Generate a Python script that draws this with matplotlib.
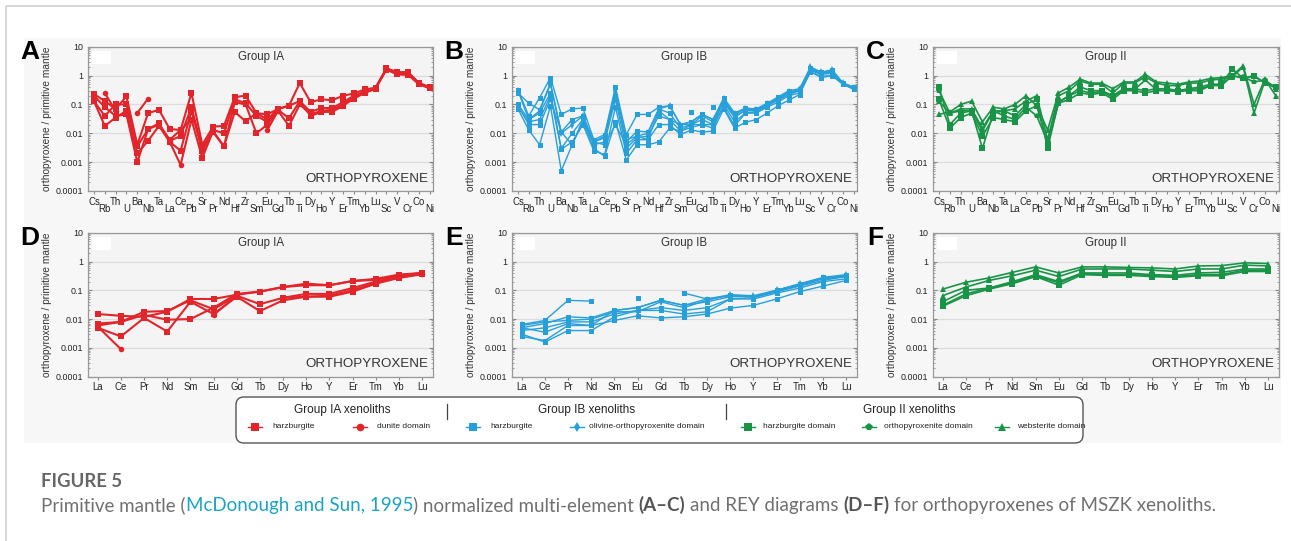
import numpy as np
import matplotlib.pyplot as plt
from matplotlib.patches import Rectangle, FancyBboxPatch
from matplotlib.lines import Line2D

plt.rcParams['font.family'] = ['Liberation Sans', 'DejaVu Sans']

W, H = 1291, 541
nan = np.nan

multi_elements = ['Cs', 'Rb', 'Th', 'U', 'Ba', 'Nb', 'Ta', 'La', 'Ce', 'Pb', 'Sr', 'Pr', 'Nd', 'Hf',
                  'Zr', 'Sm', 'Eu', 'Gd', 'Tb', 'Ti', 'Dy', 'Ho', 'Y', 'Er', 'Tm', 'Yb', 'Lu', 'Sc',
                  'V', 'Cr', 'Co', 'Ni']
rey_elements = ['La', 'Ce', 'Pr', 'Nd', 'Sm', 'Eu', 'Gd', 'Tb', 'Dy', 'Ho', 'Y', 'Er', 'Tm', 'Yb', 'Lu']

# ---- Group IA, multi-element (A) ----
ia_harz_1 = [0.23, 0.13, 0.07, 0.19, 0.004, 0.05, 0.065, 0.014, 0.013, 0.25, 0.004, 0.017, 0.018, 0.18,
             0.2, 0.05, 0.045, 0.07, 0.09, 0.55, 0.12, 0.15, 0.14, 0.2, 0.24, 0.33, 0.38, 1.8, 1.3, 1.3, 0.55, 0.38]
ia_harz_2 = [0.13, 0.04, 0.1, 0.1, 0.0035, 0.014, 0.022, 0.0055, 0.008, 0.08, 0.003, 0.013, 0.01, 0.15,
             0.11, 0.04, 0.025, 0.065, 0.033, 0.13, 0.055, 0.075, 0.075, 0.12, 0.2, 0.28, 0.37, 1.7, 1.2, 1.2, 0.52, 0.37]
ia_harz_3 = [0.13, 0.018, 0.035, 0.06, 0.002, 0.0055, 0.018, 0.005, 0.0025, 0.06, 0.0025, 0.011, 0.0035, 0.12,
             0.1, 0.01, 0.02, 0.06, 0.018, 0.1, 0.045, 0.06, 0.065, 0.1, 0.18, 0.26, 0.36, 1.6, 1.1, 1.05, 0.5, 0.36]
ia_harz_4 = [0.2, 0.08, 0.04, 0.045, 0.001, 0.014, 0.02, 0.006, 0.013, 0.03, 0.0014, 0.012, 0.0035, 0.055,
             0.026, 0.05, 0.03, 0.07, 0.09, 0.13, 0.04, 0.055, 0.055, 0.09, 0.16, 0.25, 0.35, 1.7, 1.3, 1.3, 0.55, 0.4]
ia_dunite = [nan, 0.25, 0.06, nan, 0.05, 0.16, nan, 0.005, 0.0008, 0.03, nan, nan, nan, nan,
             nan, nan, 0.013, 0.06, nan, nan, nan, nan, nan, nan, nan, nan, nan, nan, nan, nan, nan, nan]

# ---- Group IA, REY (D) ----
ia_rey_harz_1 = [0.015, 0.013, 0.012, 0.018, 0.05, 0.05, 0.07, 0.09, 0.13, 0.17, 0.15, 0.21, 0.25, 0.35, 0.4]
ia_rey_harz_2 = [0.007, 0.008, 0.018, 0.019, 0.045, 0.022, 0.065, 0.033, 0.055, 0.075, 0.075, 0.12, 0.2, 0.3, 0.38]
ia_rey_harz_3 = [0.005, 0.0025, 0.011, 0.0037, 0.04, 0.015, 0.06, 0.019, 0.045, 0.06, 0.06, 0.09, 0.17, 0.27, 0.36]
ia_rey_harz_4 = [0.006, 0.008, 0.014, 0.0095, 0.01, 0.025, 0.075, 0.09, 0.13, 0.15, 0.15, 0.21, 0.23, 0.33, 0.4]
ia_rey_dunite = [0.0055, 0.0009, nan, nan, nan, 0.014, 0.065, nan, 0.055, 0.06, 0.065, 0.1, 0.18, 0.28, 0.38]

# ---- Group IB, multi-element (B) ----
ib_harz_1 = [0.32, 0.04, 0.17, 0.85, 0.045, 0.07, 0.075, 0.006, 0.009, 0.4, 0.009, 0.045, 0.045, 0.08,
             0.09, 0.02, 0.025, 0.045, 0.03, 0.17, 0.05, 0.075, 0.07, 0.11, 0.18, 0.3, 0.35, 1.8, 1.3, 1.6, 0.55, 0.4]
ib_harz_2 = [0.25, 0.11, 0.065, 0.55, 0.011, 0.03, 0.04, 0.005, 0.007, 0.2, 0.005, 0.012, 0.011, 0.07,
             0.05, 0.015, 0.02, 0.03, 0.02, 0.13, 0.04, 0.06, 0.06, 0.09, 0.15, 0.25, 0.3, 1.5, 1.1, 1.2, 0.52, 0.38]
ib_harz_3 = [0.1, 0.03, 0.05, 0.25, 0.003, 0.01, 0.03, 0.004, 0.005, 0.15, 0.003, 0.007, 0.008, 0.04,
             0.03, 0.012, 0.016, 0.02, 0.015, 0.1, 0.025, 0.05, 0.05, 0.08, 0.12, 0.2, 0.25, 1.3, 0.95, 1.0, 0.5, 0.35]
ib_harz_4 = [0.08, 0.025, 0.03, 0.2, 0.0028, 0.005, 0.02, 0.0025, 0.0018, 0.08, 0.002, 0.006, 0.006, 0.02,
             0.02, 0.009, 0.013, 0.011, 0.012, 0.07, 0.015, 0.024, 0.03, 0.05, 0.09, 0.14, 0.22, 1.4, 0.85, 1.0, 0.5, 0.33]
ib_harz_5 = [0.07, 0.013, 0.004, 0.09, 0.0005, 0.004, 0.025, 0.003, 0.0016, 0.025, 0.0012, 0.004, 0.004, 0.005,
             0.015, 0.012, 0.02, 0.02, 0.02, 0.08, 0.018, 0.05, 0.055, 0.09, 0.14, 0.22, 0.3, 1.6, 1.2, 1.3, 0.55, 0.36]
ib_harz_6 = [0.09, 0.02, 0.02, 0.15, 0.011, 0.004, 0.03, 0.005, 0.004, 0.02, 0.004, 0.008, 0.006, 0.06,
             0.03, 0.02, 0.025, 0.045, 0.03, 0.12, 0.035, 0.065, 0.06, 0.1, 0.16, 0.26, 0.3, 1.7, 1.2, 1.4, 0.55, 0.37]
ib_harz_7 = [nan, nan, nan, nan, nan, nan, nan, nan, nan, nan, nan, nan, nan, nan,
             nan, nan, 0.055, nan, 0.08, nan, nan, nan, nan, nan, nan, nan, nan, nan, nan, nan, nan, nan]
ib_olopx = [0.3, 0.03, 0.06, 0.5, 0.01, 0.02, 0.04, 0.005, 0.008, 0.3, 0.006, 0.008, 0.01, 0.07,
            0.09, 0.02, 0.02, 0.04, 0.025, 0.15, 0.045, 0.07, 0.065, 0.1, 0.16, 0.27, 0.33, 2.0, 1.3, 1.5, 0.55, 0.38]

# ---- Group IB, REY (E) ----
ib_rey_harz_1 = [0.0065, 0.009, 0.045, 0.042, nan, 0.055, nan, 0.08, 0.05, 0.07, 0.06, 0.1, 0.17, 0.28, 0.35]
ib_rey_harz_2 = [0.005, 0.007, 0.012, 0.011, 0.02, 0.025, 0.045, 0.03, 0.04, 0.06, 0.06, 0.09, 0.15, 0.25, 0.3]
ib_rey_harz_3 = [0.004, 0.005, 0.008, 0.008, 0.015, 0.02, 0.025, 0.02, 0.025, 0.05, 0.05, 0.08, 0.12, 0.2, 0.25]
ib_rey_harz_4 = [0.0025, 0.0018, 0.006, 0.006, 0.009, 0.013, 0.011, 0.012, 0.015, 0.024, 0.03, 0.05, 0.09, 0.14, 0.22]
ib_rey_harz_5 = [0.003, 0.0016, 0.004, 0.004, 0.012, 0.02, 0.02, 0.015, 0.018, 0.05, 0.055, 0.09, 0.14, 0.22, 0.3]
ib_rey_harz_6 = [0.005, 0.0035, 0.007, 0.006, 0.02, 0.025, 0.045, 0.03, 0.05, 0.065, 0.06, 0.1, 0.16, 0.26, 0.32]
ib_rey_olopx = [0.006, 0.008, 0.009, 0.01, 0.018, 0.018, 0.04, 0.025, 0.045, 0.07, 0.065, 0.1, 0.16, 0.27, 0.33]

# ---- Group II, multi-element (C) ----
ii_web_1 = [0.045, 0.055, 0.1, 0.13, 0.025, 0.08, 0.07, 0.1, 0.2, 0.09, 0.013, 0.25, 0.4, 0.75,
            0.55, 0.55, 0.35, 0.6, 0.6, 1.1, 0.6, 0.55, 0.5, 0.6, 0.65, 0.8, 0.85, 1.0, 2.2, 0.1, 0.75, 0.2]
ii_web_2 = [0.13, 0.05, 0.07, 0.07, 0.015, 0.06, 0.06, 0.07, 0.13, 0.2, 0.006, 0.2, 0.3, 0.65,
            0.5, 0.5, 0.25, 0.55, 0.55, 0.9, 0.55, 0.45, 0.45, 0.55, 0.55, 0.7, 0.75, 0.9, 2.0, 0.05, 0.65, 0.35]
ii_harz_1 = [0.4, 0.02, 0.05, 0.06, 0.003, 0.05, 0.06, 0.04, 0.1, 0.15, 0.003, 0.12, 0.2, 0.4,
             0.3, 0.3, 0.2, 0.35, 0.35, 0.3, 0.35, 0.35, 0.3, 0.35, 0.4, 0.5, 0.5, 1.7, 0.8, 1.0, 0.55, 0.4]
ii_harz_2 = [0.15, 0.015, 0.035, 0.05, 0.008, 0.035, 0.03, 0.025, 0.06, 0.09, 0.004, 0.11, 0.15, 0.25,
             0.22, 0.25, 0.15, 0.3, 0.3, 0.25, 0.3, 0.3, 0.28, 0.3, 0.3, 0.45, 0.45, 1.0, 0.8, 0.95, 0.55, 0.4]
ii_opx = [0.3, 0.05, 0.06, 0.06, 0.012, 0.06, 0.04, 0.03, 0.08, 0.04, 0.005, 0.12, 0.2, 0.3,
          0.25, 0.28, 0.18, 0.33, 0.33, 0.7, 0.33, 0.3, 0.3, 0.33, 0.35, 0.45, 0.5, 0.95, 0.9, 0.6, 0.7, 0.38]

# ---- Group II, REY (F) ----
ii_rey_web_1 = [0.11, 0.19, 0.27, 0.42, 0.65, 0.4, 0.65, 0.65, 0.62, 0.6, 0.55, 0.7, 0.72, 0.9, 0.85]
ii_rey_web_2 = [0.065, 0.13, 0.22, 0.32, 0.5, 0.3, 0.55, 0.55, 0.55, 0.5, 0.45, 0.55, 0.55, 0.75, 0.7]
ii_rey_harz_1 = [0.04, 0.1, 0.12, 0.2, 0.35, 0.2, 0.4, 0.4, 0.4, 0.35, 0.33, 0.4, 0.42, 0.55, 0.55]
ii_rey_harz_2 = [0.028, 0.065, 0.11, 0.17, 0.3, 0.15, 0.35, 0.33, 0.33, 0.3, 0.28, 0.32, 0.32, 0.45, 0.45]
ii_rey_opx = [0.03, 0.075, 0.12, 0.18, 0.32, 0.18, 0.38, 0.35, 0.35, 0.33, 0.3, 0.35, 0.35, 0.5, 0.5]

RED, BLUE, GREEN = '#e2242b', '#27a0da', '#199447'


def px(x, y):
    return x / W, 1 - y / H


def draw_panel(box, labels, series, color, title, letter, lw, ms, stagger):
    left, top, right, bottom = box
    ax = fig.add_axes([left / W, 1 - bottom / H, (right - left) / W, (bottom - top) / H])
    ax.set_facecolor('#f4f4f4')
    x = np.arange(len(labels))
    for vals, marker in series:
        ax.plot(x, vals, color=color, marker=marker, ms=ms, lw=lw, mew=0)
    ax.set_yscale('log')
    ax.set_ylim(1e-4, 10)
    ax.set_yticks([1e-4, 1e-3, 1e-2, 0.1, 1, 10])
    ax.set_yticklabels(['0.0001', '0.001', '0.01', '0.1', '1', '10'])
    if stagger:
        ax.set_xlim(-0.55, len(labels) - 0.7)
    else:
        ax.set_xlim(-0.42, len(labels) - 0.53)
    ax.set_xticks(x)
    ax.set_xticklabels(labels)
    ax.grid(axis='y', which='major', color='#dcdcdc', lw=0.9)
    ax.set_axisbelow(True)
    ax.tick_params(axis='y', which='both', direction='in', right=True, colors='#888888',
                   labelcolor='#222222', labelsize=6.4)
    ax.tick_params(axis='y', which='major', length=3)
    ax.tick_params(axis='y', which='minor', length=1.6, width=0.6)
    ax.tick_params(axis='x', length=2.5, colors='#888888', labelcolor='#222222', labelsize=6.9, pad=1.5)
    if stagger:
        for i, tick in enumerate(ax.xaxis.get_major_ticks()):
            if i % 2 == 1:
                tick.set_pad(7)
    for s in ax.spines.values():
        s.set_color('#999999')
        s.set_linewidth(0.9)
    ax.add_patch(Rectangle((0.013, 0.88), 0.055, 0.09, transform=ax.transAxes,
                           facecolor='white', edgecolor='none', zorder=1))
    ax.text(0.5, 0.93, title, transform=ax.transAxes, ha='center', va='center',
            fontsize=8.3, color='#333333')
    ax.text(0.988, 0.085, 'ORTHOPYROXENE', transform=ax.transAxes, ha='right', va='center',
            fontsize=9.6, color='#333333')
    fig.text(*px(left - 41, (top + bottom) / 2), 'orthopyroxene / primitive mantle', rotation=90,
             ha='center', va='center', fontsize=7.3, color='#333333')
    fig.text(*px(left - 58, top + 5), letter, ha='center', va='center', fontsize=19,
             fontweight='bold', color='black')
    return ax


fig = plt.figure(figsize=(W / 100, H / 100), dpi=100)
fig.patch.set_facecolor('white')

# outer frame and light grey figure area
bg = fig.add_axes([0, 0, 1, 1])
bg.set_xlim(0, W)
bg.set_ylim(H, 0)
bg.axis('off')
bg.add_patch(Rectangle((6, 6), W + 20, H + 20, facecolor='none', edgecolor='#cfcfcf', lw=1.2))
bg.add_patch(Rectangle((24, 38), 1257, 405, facecolor='#f7f7f7', edgecolor='none'))

top_row = (46.7, 191)
bot_row = (232.7, 376.7)
cols = [(88, 433), (512, 857), (933, 1279)]

draw_panel((cols[0][0], top_row[0], cols[0][1], top_row[1]), multi_elements,
           [(ia_harz_1, 's'), (ia_harz_2, 's'), (ia_harz_3, 's'), (ia_harz_4, 's'), (ia_dunite, 'o')],
           RED, 'Group IA', 'A', 1.5, 4.0, True)
draw_panel((cols[1][0], top_row[0], cols[1][1], top_row[1]), multi_elements,
           [(ib_harz_1, 's'), (ib_harz_2, 's'), (ib_harz_3, 's'), (ib_harz_4, 's'), (ib_harz_5, 's'),
            (ib_harz_6, 's'), (ib_harz_7, 's'), (ib_olopx, 'd')],
           BLUE, 'Group IB', 'B', 1.0, 3.6, True)
draw_panel((cols[2][0], top_row[0], cols[2][1], top_row[1]), multi_elements,
           [(ii_harz_1, 's'), (ii_harz_2, 's'), (ii_opx, 'p'), (ii_web_1, '^'), (ii_web_2, '^')],
           GREEN, 'Group II', 'C', 1.2, 3.8, True)
draw_panel((cols[0][0], bot_row[0], cols[0][1], bot_row[1]), rey_elements,
           [(ia_rey_harz_1, 's'), (ia_rey_harz_2, 's'), (ia_rey_harz_3, 's'), (ia_rey_harz_4, 's'),
            (ia_rey_dunite, 'o')],
           RED, 'Group IA', 'D', 1.5, 4.0, False)
draw_panel((cols[1][0], bot_row[0], cols[1][1], bot_row[1]), rey_elements,
           [(ib_rey_harz_1, 's'), (ib_rey_harz_2, 's'), (ib_rey_harz_3, 's'), (ib_rey_harz_4, 's'),
            (ib_rey_harz_5, 's'), (ib_rey_harz_6, 's'), (ib_rey_olopx, 'd')],
           BLUE, 'Group IB', 'E', 1.0, 3.6, False)
draw_panel((cols[2][0], bot_row[0], cols[2][1], bot_row[1]), rey_elements,
           [(ii_rey_harz_1, 's'), (ii_rey_harz_2, 's'), (ii_rey_opx, 'p'), (ii_rey_web_1, '^'),
            (ii_rey_web_2, '^')],
           GREEN, 'Group II', 'F', 1.2, 3.8, False)

# legend box
lg = fig.add_axes([0, 0, 1, 1], zorder=5)
lg.set_xlim(0, W)
lg.set_ylim(H, 0)
lg.axis('off')
lg.add_patch(FancyBboxPatch((236, 397), 847, 46, boxstyle='round,pad=0,rounding_size=8',
                            facecolor='white', edgecolor='#555555', lw=1.0))
for cx, txt in [(342, 'Group IA xenoliths'), (587, 'Group IB xenoliths'), (909, 'Group II xenoliths')]:
    lg.text(cx, 410, txt, ha='center', va='center', fontsize=8.5, color='#222222')
for sx in (447, 726):
    lg.add_line(Line2D([sx, sx], [404, 419], color='#444444', lw=0.9))
entries = [(255, 272, RED, 's', 'harzburgite'), (360, 377, RED, 'o', 'dunite domain'),
           (473, 490, BLUE, 's', 'harzburgite'), (577, 589, BLUE, 'd', 'olivine-orthopyroxenite domain'),
           (748, 763, GREEN, 's', 'harzburgite domain'), (869, 884, GREEN, 'p', 'orthopyroxenite domain'),
           (1002, 1017, GREEN, '^', 'websterite domain')]
for mx, tx, col, mk, txt in entries:
    lg.add_line(Line2D([mx - 7, mx + 7], [427, 427], color=col, lw=1.0))
    lg.add_line(Line2D([mx], [427], color=col, marker=mk, ms=5.5, mew=0))
    lg.text(tx, 427, txt, ha='left', va='center', fontsize=6.0, color='#222222')

# caption
cap = fig.add_axes([0, 0, 1, 1], zorder=6)
cap.set_xlim(0, W)
cap.set_ylim(H, 0)
cap.axis('off')
cap.text(41, 481.5, 'FIGURE 5', ha='left', va='center', fontsize=13.3, fontweight='bold',
         color='#666666', family=['Lato', 'DejaVu Sans'])
parts = [('Primitive mantle (', '#707070', 'normal'),
         ('McDonough and Sun, 1995', '#1ba3c8', 'normal'),
         (') normalized multi-element ', '#707070', 'normal'),
         ('(A\u2013C)', '#555555', 'bold'),
         (' and REY diagrams ', '#707070', 'normal'),
         ('(D\u2013F)', '#555555', 'bold'),
         (' for orthopyroxenes of MSZK xenoliths.', '#707070', 'normal')]
cap_size = 13.5
renderer = fig.canvas.get_renderer()
probe1 = cap.text(0, 0, 'a a', fontsize=cap_size, family=['Lato', 'DejaVu Sans'])
probe2 = cap.text(0, 0, 'aa', fontsize=cap_size, family=['Lato', 'DejaVu Sans'])
space_w = probe1.get_window_extent(renderer).width - probe2.get_window_extent(renderer).width
probe1.remove()
probe2.remove()
xpos = 41.0
for txt, col, wt in parts:
    lead = len(txt) - len(txt.lstrip(' '))
    trail = len(txt) - len(txt.rstrip(' '))
    xpos += lead * space_w
    t = cap.text(xpos, 511, txt.strip(' '), ha='left', va='baseline', fontsize=cap_size, color=col,
                 fontweight=wt, family=['Lato', 'DejaVu Sans'])
    xpos += t.get_window_extent(renderer).width + trail * space_w

fig.savefig('out.png', dpi=100)
